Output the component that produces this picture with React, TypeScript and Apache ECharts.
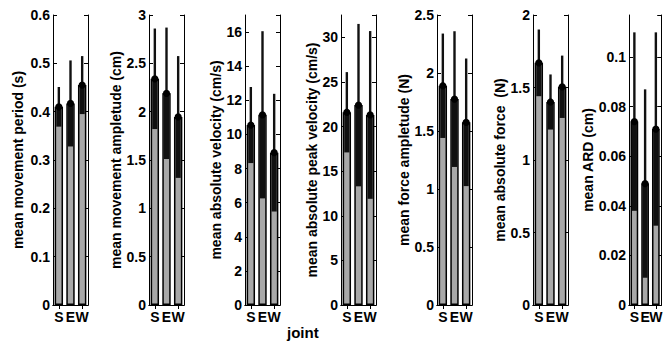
import React, { useEffect, useRef } from "react";
import * as echarts from "echarts";

const categories = ["S", "E", "W"];

const periodMean = [0.41, 0.417, 0.455];
const periodSd = [0.041, 0.089, 0.06];
const amplitudeMean = [2.34, 2.19, 1.945];
const amplitudeSd = [0.52, 0.68, 0.63];
const velocityMean = [10.55, 11.15, 8.93];
const velocitySd = [2.23, 4.9, 3.45];
const peakVelocityMean = [21.6, 22.4, 21.3];
const peakVelocitySd = [4.5, 9.1, 9.4];
const forceAmpMean = [1.89, 1.775, 1.575];
const forceAmpSd = [0.45, 0.585, 0.55];
const absForceMean = [1.67, 1.4, 1.505];
const absForceSd = [0.23, 0.19, 0.215];
const ardMean = [0.074, 0.049, 0.071];
const ardSd = [0.036, 0.038, 0.039];

const yNames = [
  "mean movement period (s)",
  "mean movement ampletude (cm)",
  "mean absolute velocity (cm/s)",
  "mean absolute peak velocity (cm/s)",
  "mean force ampletude (N)",
  "mean absolute force  (N)",
  "mean ARD (cm)",
];
const yMax = [0.6, 3, 17, 32.5, 2.5, 2, 0.117];
const yInterval = [0.1, 0.5, 2, 5, 0.5, 0.5, 0.02];
const showMax = [true, true, false, false, true, true, false];
const means = [periodMean, amplitudeMean, velocityMean, peakVelocityMean, forceAmpMean, absForceMean, ardMean];
const sds = [periodSd, amplitudeSd, velocitySd, peakVelocitySd, forceAmpSd, absForceSd, ardSd];
const xLabel = "joint";

// layout
const gridLefts = [53, 149, 245, 341, 437, 533, 629];
const gridWidth = 35;
const nameGaps = [28, 22, 21, 19, 22, 22, 34];
const FONT = "'Liberation Sans', Arial, sans-serif";

export default function App() {
  const ref = useRef<HTMLDivElement>(null);
  useEffect(() => {
    if (!ref.current) return;
    const chart = echarts.init(ref.current, null, { renderer: "svg" });
    const grid: any[] = [];
    const xAxis: any[] = [];
    const yAxis: any[] = [];
    const series: any[] = [];
    for (let i = 0; i < 7; i++) {
      grid.push({ left: gridLefts[i], width: gridWidth, top: 15, bottom: 41, containLabel: false });
      const axisLine = { show: true, lineStyle: { color: "#000", width: 1 } };
      xAxis.push({
        type: "category",
        data: categories,
        gridIndex: i,
        position: "bottom",
        axisLine,
        axisTick: { show: true, inside: true, alignWithLabel: true, length: 4, lineStyle: { color: "#000" } },
        axisLabel: { color: "#000", fontFamily: FONT, fontWeight: "bold", fontSize: 14, margin: 5, interval: 0 },
      });
      xAxis.push({
        type: "category",
        data: categories,
        gridIndex: i,
        position: "top",
        axisLine,
        axisTick: { show: true, inside: true, alignWithLabel: true, length: 4, lineStyle: { color: "#000" } },
        axisLabel: { show: false },
      });
      yAxis.push({
        type: "value",
        gridIndex: i,
        position: "left",
        min: 0,
        max: yMax[i],
        interval: yInterval[i],
        name: yNames[i],
        nameLocation: "middle",
        nameGap: nameGaps[i],
        nameTextStyle: { color: "#000", fontFamily: FONT, fontWeight: "bold", fontSize: 14 },
        axisLine,
        axisTick: { show: true, inside: true, length: 4, lineStyle: { color: "#000" } },
        axisLabel: { color: "#000", fontFamily: FONT, fontWeight: "bold", fontSize: 14, margin: 3, showMaxLabel: showMax[i] },
        splitLine: { show: false },
      });
      yAxis.push({
        type: "value",
        gridIndex: i,
        position: "right",
        min: 0,
        max: yMax[i],
        interval: yInterval[i],
        axisLine,
        axisTick: { show: true, inside: true, length: 4, lineStyle: { color: "#000" } },
        axisLabel: { show: false },
        splitLine: { show: false },
      });
      series.push({
        type: "bar",
        xAxisIndex: 2 * i,
        yAxisIndex: 2 * i,
        data: means[i],
        barWidth: "72%",
        itemStyle: { color: "#a8a8a8", borderColor: "#000", borderWidth: 1.5 },
        silent: true,
      });
      series.push({
        type: "custom",
        xAxisIndex: 2 * i,
        yAxisIndex: 2 * i,
        data: means[i].map((m, k) => [k, m, sds[i][k]]),
        encode: { x: 0, y: 1 },
        z: 10,
        renderItem: (params: any, api: any) => {
          const k = api.value(0);
          const m = api.value(1);
          const s = api.value(2);
          const pm = api.coord([k, m]);
          const pl = api.coord([k, m - s]);
          const pu = api.coord([k, m + s]);
          return {
            type: "group",
            children: [
              {
                type: "rect",
                shape: { x: pm[0] - 2.6, y: pm[1], width: 5.2, height: pl[1] - pm[1] },
                style: { fill: "#111" },
              },
              {
                type: "line",
                shape: { x1: pm[0], y1: pm[1], x2: pu[0], y2: pu[1] },
                style: { stroke: "#111", lineWidth: 2.4 },
              },
              {
                type: "circle",
                shape: { cx: pm[0], cy: pm[1], r: 3.6 },
                style: { fill: "#000" },
              },
            ],
          };
        },
      });
    }
    chart.setOption({
      animation: false,
      backgroundColor: "#fff",
      grid,
      xAxis,
      yAxis,
      series,
      graphic: [
        {
          type: "text",
          left: 287,
          top: 325,
          style: { text: xLabel, fill: "#000", font: `bold 15px ${FONT}` },
        },
      ],
    });
    return () => chart.dispose();
  }, []);
  return <div ref={ref} style={{ position: "fixed", left: 0, top: 0, width: 665, height: 346 }} />;
}
